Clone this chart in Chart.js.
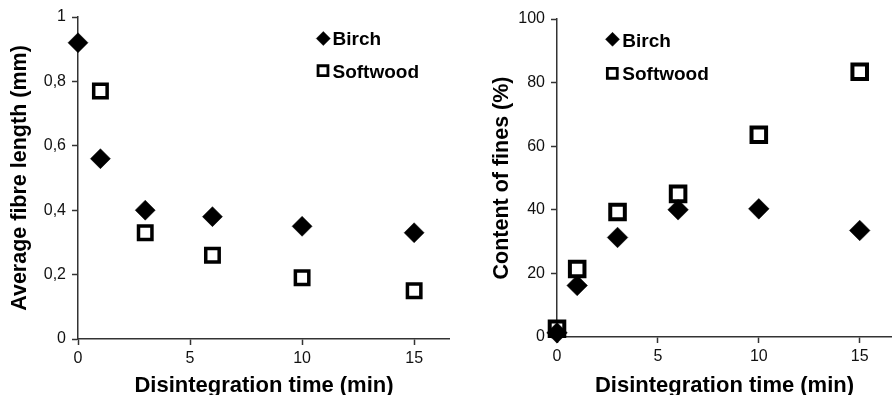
<!DOCTYPE html>
<html><head><meta charset="utf-8">
<script src="https://cdn.jsdelivr.net/npm/chart.js@4.4.1/dist/chart.umd.min.js"></script>
<style>
html,body{margin:0;padding:0;background:#fff;}
#wrap{position:relative;width:892px;height:395px;overflow:hidden;background:#fff;}
canvas{position:absolute;top:0;}
#c1{left:0;} #c2{left:450px;}
</style></head><body>
<div id="wrap"><canvas id="c1" width="450" height="395"></canvas><canvas id="c2" width="442" height="395"></canvas></div>
<script>
// ---- data ----
const birchTimes = [0, 1, 3, 6, 10, 15];
const softwoodLengthTimes = [1, 3, 6, 10, 15];
const softwoodFinesTimes = [0, 1, 3, 6, 10, 15];
const birchFibreLength = [0.92, 0.56, 0.40, 0.38, 0.35, 0.33];
const softwoodFibreLength = [0.77, 0.33, 0.26, 0.19, 0.15];
const birchFines = [1.3, 16.2, 31.3, 40.0, 40.3, 33.5];
const softwoodFines = [2.6, 21.4, 39.3, 45.0, 63.6, 83.4];
const seriesNames = ['Birch', 'Softwood'];
const xTickValues = [0, 5, 10, 15];
const xTickLabels = ['0', '5', '10', '15'];
const lengthTickValues = [0, 0.2, 0.4, 0.6, 0.8, 1];
const lengthTickLabels = ['0', '0,2', '0,4', '0,6', '0,8', '1'];
const finesTickValues = [0, 20, 40, 60, 80, 100];
const finesTickLabels = ['0', '20', '40', '60', '80', '100'];
const xTitle = 'Disintegration time (min)';
const yTitles = ['Average fibre length (mm)', 'Content of fines (%)'];

const FAMILY = "'Liberation Sans', Arial, Helvetica, sans-serif";
const AXIS = '#333';

function pts(xs, ys) { return xs.map((x, i) => ({x: x, y: ys[i]})); }

function legendPlugin(items) {
  return {
    id: 'inlineLegend',
    afterDraw(chart) {
      const ctx = chart.ctx;
      chart.data.datasets.forEach((ds, i) => {
        const it = items[i];
        ctx.save();
        ctx.fillStyle = ds.backgroundColor;
        ctx.strokeStyle = ds.borderColor;
        ctx.lineWidth = it.bw;
        Chart.helpers.drawPoint(ctx, {pointStyle: ds.pointStyle, radius: it.r, rotation: 0, borderWidth: it.bw}, it.mx, it.my);
        ctx.fillStyle = '#000';
        ctx.font = 'bold 19px ' + FAMILY;
        ctx.textBaseline = 'alphabetic';
        ctx.textAlign = 'left';
        ctx.fillText(ds.label, it.tx, it.ty);
        ctx.restore();
      });
    }
  };
}

function makeChart(id, c) {
  return new Chart(document.getElementById(id), {
    type: 'scatter',
    data: {datasets: [
      {label: seriesNames[0], data: c.birch, pointStyle: 'rectRot', pointRadius: c.dR, pointHoverRadius: c.dR,
       backgroundColor: '#000', borderColor: '#000', borderWidth: 0.5, clip: false},
      {label: seriesNames[1], data: c.soft, pointStyle: 'rect', pointRadius: c.sR, pointHoverRadius: c.sR,
       backgroundColor: '#fff', borderColor: '#000', borderWidth: c.sB, clip: false}
    ]},
    options: {
      responsive: false, animation: false, events: [],
      layout: {autoPadding: false, padding: {top: c.top, right: 0, left: 0, bottom: 0}},
      plugins: {legend: {display: false}, tooltip: {enabled: false}},
      scales: {
        x: {
          type: 'linear', min: 0, max: 16.6,
          afterBuildTicks: s => { s.ticks = xTickValues.map(v => ({value: v})); },
          afterFit: s => { s.height = c.xH; },
          ticks: {callback: (v, i) => xTickLabels[i], font: {family: FAMILY, size: 16}, color: '#111',
                  padding: 4, maxRotation: 0, autoSkip: false},
          grid: {display: true, drawOnChartArea: false, drawTicks: true, tickLength: 6, tickColor: AXIS, tickWidth: 1.5},
          border: {display: true, color: AXIS, width: 1.5},
          title: {display: true, text: xTitle, color: '#000', font: {family: FAMILY, size: 22, weight: 'bold'},
                  padding: {top: 0, bottom: -4.6}}
        },
        y: {
          type: 'linear', min: c.yMin, max: c.yMax,
          afterBuildTicks: s => { s.ticks = c.yVals.map(v => ({value: v})); },
          afterFit: s => { s.width = c.yW; },
          ticks: {callback: (v, i) => c.yLabels[i], font: {family: FAMILY, size: 16}, color: '#111',
                  padding: 6, autoSkip: false},
          grid: {display: true, drawOnChartArea: false, drawTicks: true, tickLength: 6, tickColor: AXIS, tickWidth: 1.5},
          border: {display: true, color: AXIS, width: 1.5},
          title: {display: true, text: c.yTitle, color: '#000', font: {family: FAMILY, size: 21.5, weight: 'bold'},
                  padding: {top: c.ytp, bottom: 0}}
        }
      }
    },
    plugins: [legendPlugin(c.legend)]
  });
}

makeChart('c1', {
  birch: pts(birchTimes, birchFibreLength),
  soft: pts(softwoodLengthTimes, softwoodFibreLength),
  dR: 10, sR: 9.5, sB: 3.5,
  top: 17, xH: 56, yW: 78, yMin: 0, yMax: 1,
  yVals: lengthTickValues, yLabels: lengthTickLabels, yTitle: yTitles[0], ytp: 7.5,
  legend: [
    {mx: 323.3, my: 38.5, r: 7, bw: 0.5, tx: 332.5, ty: 45},
    {mx: 323, my: 70.7, r: 7, bw: 2.8, tx: 332.5, ty: 78.3}
  ]
});

makeChart('c2', {
  birch: pts(birchTimes, birchFines),
  soft: pts(softwoodFinesTimes, softwoodFines),
  dR: 10.3, sR: 10.3, sB: 4,
  top: 19, xH: 58, yW: 107, yMin: 0, yMax: 100,
  yVals: finesTickValues, yLabels: finesTickLabels, yTitle: yTitles[1], ytp: 39,
  legend: [
    {mx: 162.5, my: 39.3, r: 7, bw: 0.5, tx: 172.3, ty: 46.7},
    {mx: 162.3, my: 73.3, r: 7, bw: 2.8, tx: 172.3, ty: 80}
  ]
});
</script>
</body></html>
